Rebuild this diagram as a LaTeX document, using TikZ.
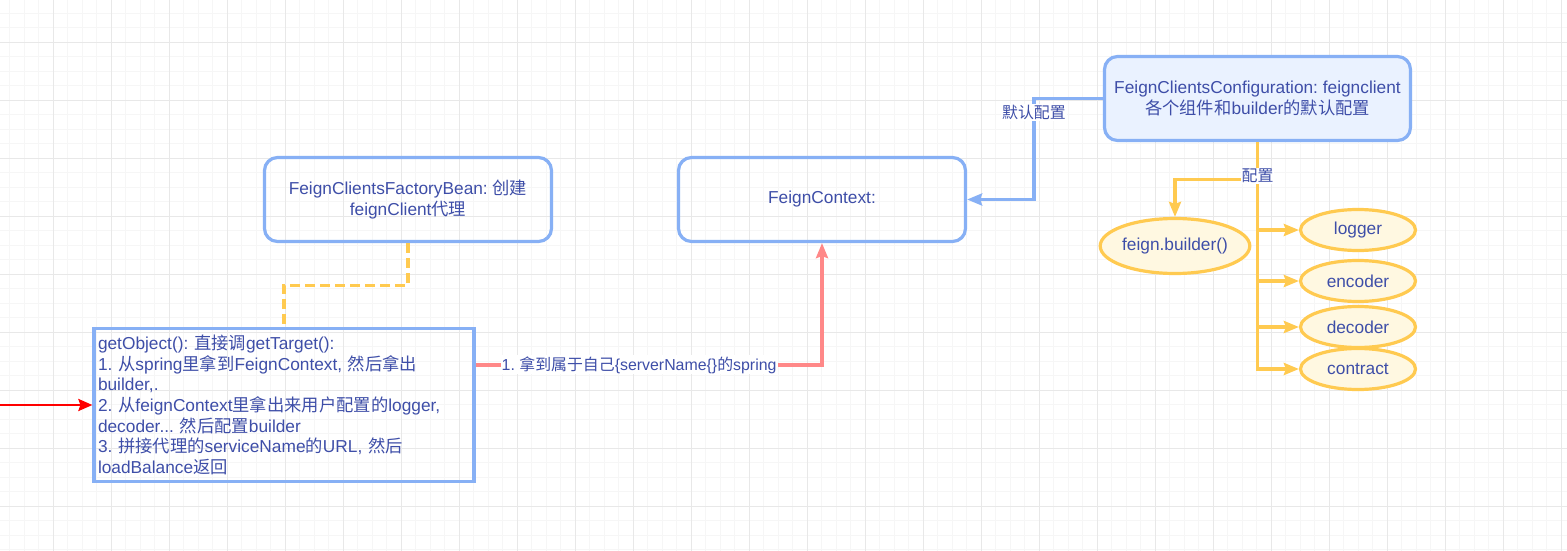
\documentclass[tikz,border=0pt]{standalone}
\usepackage{fontspec}
\setmainfont{Liberation Sans}
\newfontfamily\cjkfont{Noto Sans CJK SC}
\usepackage{xcolor}
\usepackage{tikz}
\usetikzlibrary{arrows.meta,shapes.geometric,calc}

\definecolor{boxblue}{RGB}{135,176,245}
\definecolor{boxfill}{RGB}{234,242,255}
\definecolor{textblue}{RGB}{62,78,168}
\definecolor{partline}{RGB}{255,202,80}
\definecolor{partfill}{RGB}{255,248,225}
\definecolor{springpink}{RGB}{255,136,136}
\definecolor{gridminor}{RGB}{246,246,246}
\definecolor{gridmajor}{RGB}{232,232,232}

\newcommand{\zh}[1]{{\cjkfont #1}}
\newcommand{\mainsize}{\fontsize{17.3}{20.6}\selectfont}
\newcommand{\lblsize}{\fontsize{15.9}{19}\selectfont}
\frenchspacing

\begin{document}
\begin{tikzpicture}[x=1pt,y=-1pt,>={Stealth[length=15pt,width=12pt,inset=2pt]},
  box/.style={draw=boxblue,line width=3.2pt,rounded corners=13pt,minimum width=287pt,minimum height=84pt,
    text=textblue,font=\mainsize,align=center,inner sep=4pt},
  part/.style={ellipse,draw=partline,fill=partfill,line width=3.2pt,minimum width=115pt,minimum height=41pt,
    text=textblue,font=\mainsize,inner sep=0pt},
  lbl/.style={fill=white,text=textblue,font=\lblsize,inner sep=1pt},
  blueline/.style={draw=boxblue,line width=3.2pt},
  orgline/.style={draw=partline,line width=3.2pt},
  pinkline/.style={draw=springpink,line width=3.2pt},
  redline/.style={draw=red,line width=2.4pt,>={Stealth[length=14pt,width=12pt,inset=2pt]}}]
  \useasboundingbox (0,0) rectangle (1567,551);
  \fill[white] (0,0) rectangle (1567,551);
  % grid
  \foreach \gx in {0,...,107} \draw[gridminor,line width=1pt] ({9.8+14.5*\gx},0) -- ({9.8+14.5*\gx},551);
  \foreach \gy in {0,...,37} \draw[gridminor,line width=1pt] (0,{13.3+14.5*\gy}) -- (1567,{13.3+14.5*\gy});
  \foreach \gx in {0,...,26} \draw[gridmajor,line width=1.2pt] ({53.3+58*\gx},0) -- ({53.3+58*\gx},551);
  \foreach \gy in {0,...,8} \draw[gridmajor,line width=1.2pt] (0,{42.3+58*\gy}) -- (1567,{42.3+58*\gy});

  % boxes
  \node[box,fill=boxfill,minimum width=306pt] (cfg) at (1257.5,98.5)
    {FeignClientsConfiguration: feignclient\\\zh{各个组件和}builder\zh{的默认配置}};
  \node[box] (fcfb) at (408,199.5) {FeignClientsFactoryBean: \zh{创建}\\feignClient\zh{代理}};
  \node[box] (ctx) at (822,199.5) {FeignContext:};
  \node[box,rounded corners=0pt,minimum width=379pt,minimum height=153pt,text width=372pt,align=left] (getobj) at (284,405)
    {getObject(): \zh{直接调}getTarget():\\
     1. \zh{从}spring\zh{里拿到}FeignContext, \zh{然后拿出}\\
     builder,.\\
     2. \zh{从}feignContext\zh{里拿出来用户配置的}logger,\\
     decoder... \zh{然后配置}builder\\
     3. \zh{拼接代理的}serviceName\zh{的}URL, \zh{然后}\\
     loadBalance\zh{返回}};

  % components
  \node[part,minimum width=143pt,minimum height=55pt] (builder) at (1175,246) {feign.builder()};
  \node[part] (logger) at (1358,230) {logger};
  \node[part] (encoder) at (1358,281) {encoder};
  \node[part] (decoder) at (1358,327) {decoder};
  \node[part] (contract) at (1358,369) {contract};

  % connectors
  \draw[blueline,->] (cfg.west) -- ++(-69,0) |- node[lbl,pos=0.07] (lbldefault) {\zh{默认配置}} (ctx.east);
  \foreach \comp in {logger,encoder,decoder,contract}
    \draw[orgline,->] (cfg.south) |- (\comp.west);
  \draw[orgline,->] (cfg.south) -- ++(0,37) coordinate (cfgsplit) -| (builder.north);
  \node[lbl] (lblcfg) at ([yshift=3pt]cfgsplit) {\zh{配置}};
  \draw[orgline,dash pattern=on 10pt off 5pt] (fcfb.south) -- ++(0,42) -| (getobj.north);
  \draw[pinkline,->] ([yshift=-38pt]getobj.north east) -| node[lbl,pos=0.236] (lblspring)
    {1. \zh{拿到属于自己}\{serverName\{\}\zh{的}spring} (ctx.south);
  \coordinate (redin) at (0,405);
  \draw[redline,->] (redin) -- (getobj.west);
\end{tikzpicture}
\end{document}
